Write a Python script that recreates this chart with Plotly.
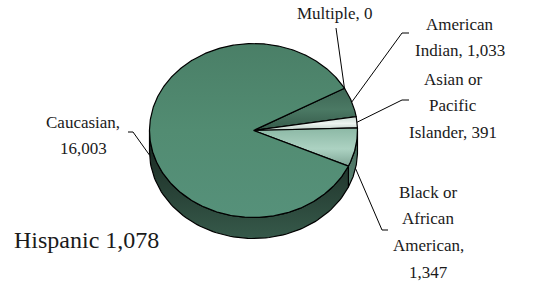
import numpy as np
import plotly.graph_objects as go

# ---------------- data ----------------
categories = ["American Indian", "Asian or Pacific Islander",
              "Black or African American", "Caucasian", "Multiple"]
values = [1033, 391, 1347, 16003, 0]
label_lines = [["American", "Indian, 1,033"],
               ["Asian or", "Pacific", "Islander, 391"],
               ["Black or", "African", "American,", "1,347"],
               ["Caucasian,", "16,003"],
               ["Multiple, 0"]]
footnote = "Hispanic 1,078"

# ---------------- layout / style ----------------
W, H = 558, 284
CX, CY, RX, RY, DEPTH = 253.5, 130.5, 104, 87, 21
START = 29.0
FONT = "Times New Roman"
LABEL_SIZE = 17
NOTE_SIZE = 24

top_fill = ["#3f6856", "#dfebe5", "#9ec6b5", "#518b71", "#518b71"]
top_grad = [
    [[0, "#355a4a"], [0.5, "#4b7964"], [1, "#3d6654"]],
    [[0, "#b9cbc3"], [0.5, "#eef5f1"], [1, "#c9dbd3"]],
    [[0, "#7ea595"], [0.45, "#acd2c2"], [1, "#8cb8a5"]],
    [[0, "#56917a"], [0.5, "#528c72"], [1, "#4a7f67"]],
    None,
]
wall_grad = [
    [[0, "#2f5042"], [1, "#1c3027"]],
    [[0, "#a8bdb3"], [1, "#6f8a7e"]],
    [[0, "#5d8676"], [1, "#3e6252"]],
    [[0, "#36594a"], [1, "#17251e"]],
    None,
]
label_pos = [
    dict(x=460, ys=[24, 50], elbow=[(402, 33), (409, 33)], z=0),
    dict(x=453, ys=[79, 105, 132], elbow=[(402, 100), (409, 100)], z=0),
    dict(x=428, ys=[192, 218, 245, 272], elbow=[(382, 230), (388, 230)], z=DEPTH),
    dict(x=83, ys=[122, 148], elbow=[(133, 132), (128, 132)], z=DEPTH),
    dict(x=335, ys=[13], elbow=[(336, 28)], z=0),
]


def pt(theta_deg, z=0.0):
    t = np.radians(theta_deg)
    return CX + RX * np.cos(t), CY - RY * np.sin(t) + z


total = float(sum(values))
spans = [v / total * 360.0 for v in values]
starts, ends = [], []
a = START
for s in spans:
    starts.append(a)
    ends.append(a - s)
    a -= s

fig = go.Figure()

# side walls (front half)
for i in range(len(values)):
    pieces = []
    for off in (0.0, 360.0, -360.0):
        hi = min(starts[i] + off, 0.0)
        lo = max(ends[i] + off, -180.0)
        if hi > lo:
            pieces.append((hi, lo))
    for hi, lo in pieces:
        th = np.linspace(hi, lo, 80)
        xs_t, ys_t = zip(*[pt(t, 0) for t in th])
        xs_b, ys_b = zip(*[pt(t, DEPTH) for t in th[::-1]])
        xs = list(xs_t) + list(xs_b) + [xs_t[0]]
        ys = list(ys_t) + list(ys_b) + [ys_t[0]]
        kw = dict(fill="toself", mode="lines",
                  line=dict(color="black", width=1.2),
                  hoverinfo="skip", showlegend=False)
        if wall_grad[i]:
            kw["fillgradient"] = dict(type="vertical", colorscale=wall_grad[i])
        fig.add_trace(go.Scatter(x=xs, y=ys, **kw))

# top faces
for i in range(len(values)):
    if values[i] <= 0:
        continue
    th = np.linspace(starts[i], ends[i], max(4, int(spans[i] * 2)))
    arc = [pt(t, 0) for t in th]
    xs = [CX] + [p[0] for p in arc] + [CX]
    ys = [CY] + [p[1] for p in arc] + [CY]
    kw = dict(fill="toself", mode="lines", fillcolor=top_fill[i],
              line=dict(color="black", width=1.2),
              hoverinfo="skip", showlegend=False, name=categories[i])
    if top_grad[i]:
        kw["fillgradient"] = dict(type="vertical", colorscale=top_grad[i])
    fig.add_trace(go.Scatter(x=xs, y=ys, **kw))

# leader lines and labels
annotations = []
for i in range(len(values)):
    mid = (starts[i] + ends[i]) / 2.0
    p = pt(mid, label_pos[i]["z"])
    path = [p] + label_pos[i]["elbow"]
    fig.add_trace(go.Scatter(x=[q[0] for q in path], y=[q[1] for q in path],
                             mode="lines", line=dict(color="black", width=1),
                             hoverinfo="skip", showlegend=False))
    for line, y in zip(label_lines[i], label_pos[i]["ys"]):
        annotations.append(dict(x=label_pos[i]["x"], y=y, text=line,
                                showarrow=False, xanchor="center", yanchor="middle",
                                font=dict(family=FONT, size=LABEL_SIZE, color="#1a1a1a")))

annotations.append(dict(x=12, y=240, text=footnote, showarrow=False,
                        xanchor="left", yanchor="middle",
                        font=dict(family=FONT, size=NOTE_SIZE, color="#1a1a1a")))

fig.update_layout(
    width=W, height=H, margin=dict(l=0, r=0, t=0, b=0),
    paper_bgcolor="white", plot_bgcolor="white",
    font=dict(family=FONT),
    xaxis=dict(range=[0, W], visible=False, fixedrange=True),
    yaxis=dict(range=[H, 0], visible=False, fixedrange=True),
    annotations=annotations,
)

fig.write_html("out.html", config=dict(displayModeBar=False),
               post_script="document.body.style.margin='0';document.body.style.overflow='hidden';")
